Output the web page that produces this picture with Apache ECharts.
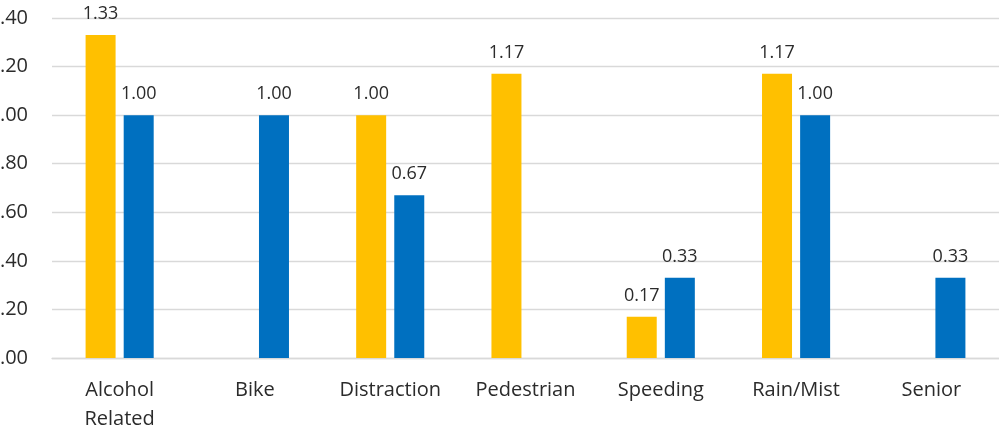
<!DOCTYPE html>
<html><head><meta charset="utf-8">
<script src="https://cdn.jsdelivr.net/npm/echarts@6/dist/echarts.min.js"></script>
<style>html,body{margin:0;padding:0;background:#fff}#c{width:999px;height:434px}</style>
</head><body><div id="c"></div>
<script>
var categories = ['Alcohol\nRelated','Bike','Distraction','Pedestrian','Speeding','Rain/Mist','Senior'];
var seriesA = [1.33, null, 1.00, 1.17, 0.17, 1.17, null];
var seriesB = [1.00, 1.00, 0.67, null, 0.33, 1.00, 0.33];
var yTicks = {min: 0, max: 1.4, interval: 0.2};
var font = 'Open Sans';
var txt = '#2b2b2b';
var chart = echarts.init(document.getElementById('c'));
var lbl = {show: true, position: 'top', distance: 12, color: txt, fontFamily: font, fontSize: 18,
  formatter: function(p){ return p.value == null ? '' : p.value.toFixed(2); }};
chart.setOption({
  animation: false,
  grid: {left: 52, right: 0, top: 18, bottom: 76, containLabel: false, outerBoundsMode: 'none'},
  xAxis: {type: 'category', data: categories,
    axisLine: {show: true, lineStyle: {color: '#d9d9d9', width: 1.3}},
    axisTick: {show: false},
    axisLabel: {color: txt, fontFamily: font, fontSize: 20, margin: 18, lineHeight: 29, interval: 0}},
  yAxis: {type: 'value', min: yTicks.min, max: yTicks.max, interval: yTicks.interval,
    axisLine: {show: false}, axisTick: {show: false},
    splitLine: {lineStyle: {color: '#d9d9d9', width: 1.3}},
    axisLabel: {color: txt, fontFamily: font, fontSize: 20, margin: 24,
      formatter: function(v){ return v.toFixed(2); }}},
  series: [
    {type: 'bar', data: seriesA, barWidth: 30, barGap: '27%', itemStyle: {color: '#FFC000'}, label: lbl},
    {type: 'bar', data: seriesB, barWidth: 30, barGap: '27%', itemStyle: {color: '#0070C0'}, label: lbl}
  ]
});
</script></body></html>
